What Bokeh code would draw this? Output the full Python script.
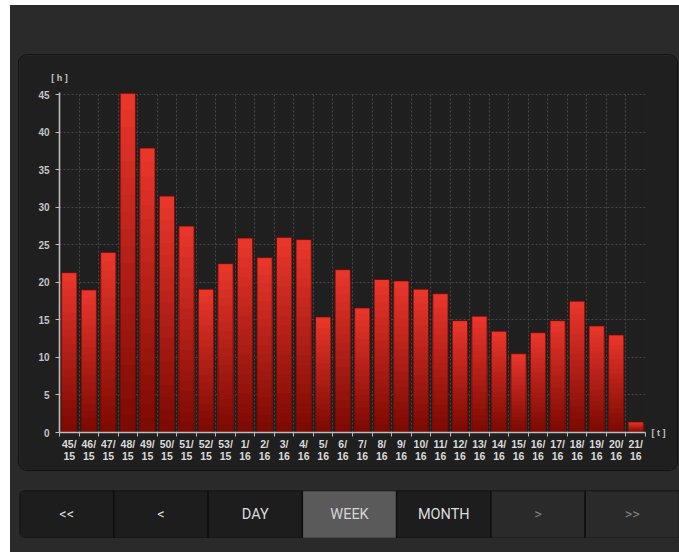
from bokeh.plotting import figure
from bokeh.models import FixedTicker, Range1d, LinearAxis, ColumnDataSource, FactorRange, Spacer
from bokeh.layouts import column, row
from bokeh.embed import file_html
from bokeh.resources import INLINE
from bokeh.core.properties import value

# ---- data ----
weeks = ["45/\n15", "46/\n15", "47/\n15", "48/\n15", "49/\n15", "50/\n15", "51/\n15",
         "52/\n15", "53/\n15", "1/\n16", "2/\n16", "3/\n16", "4/\n16", "5/\n16",
         "6/\n16", "7/\n16", "8/\n16", "9/\n16", "10/\n16", "11/\n16", "12/\n16",
         "13/\n16", "14/\n16", "15/\n16", "16/\n16", "17/\n16", "18/\n16", "19/\n16",
         "20/\n16", "21/\n16"]
hours = [21.3, 19.0, 24.0, 45.2, 37.9, 31.5, 27.5, 19.1, 22.5, 25.9, 23.3, 26.0,
         25.7, 15.4, 21.7, 16.6, 20.4, 20.2, 19.1, 18.5, 14.9, 15.5, 13.5, 10.5,
         13.3, 14.9, 17.5, 14.2, 13.0, 1.4]
y_ticks = [0, 5, 10, 15, 20, 25, 30, 35, 40, 45]
y_unit = "[ h ]"
x_unit = "[ t ]"
buttons = ["<<", "<", "DAY", "WEEK", "MONTH", ">", ">>"]
button_fill = ["#1d1d1d", "#1d1d1d", "#1d1d1d", "#5a5a5a", "#1d1d1d", "#2a2a2a", "#2a2a2a"]
button_text = ["#dcdcdc", "#dcdcdc", "#dcdcdc", "#d4d4d4", "#dcdcdc", "#7e7e7e", "#7e7e7e"]

LEATHER = "#2a2a2a"
PANEL = "#1f1f1f"

idx = list(range(len(weeks)))
src = ColumnDataSource(dict(x=idx, top=hours))
x0, x1 = -0.5, len(weeks) - 0.5

p = figure(width=658, height=415, output_backend="svg", toolbar_location=None,
           x_range=Range1d(x0, x1), y_range=Range1d(0, 45.3),
           min_border_left=40, min_border_right=32, min_border_top=37, min_border_bottom=38,
           background_fill_color=PANEL, border_fill_color=PANEL)
p.outline_line_color = None
p.styles = {"border-radius": "8px", "overflow": "hidden", "box-shadow": "0 0 0 1px #121212"}

# gradient bars (bright top -> dark bottom), built from the data
top_c = (232, 54, 43)
bot_c = (125, 10, 3)
N = 20
for k in range(N):
    frac = 1 - k / N
    t = k / (N - 1)
    c = tuple(int(round(top_c[i] + (bot_c[i] - top_c[i]) * t)) for i in range(3))
    col = "#%02x%02x%02x" % c
    p.vbar(x=idx, top=[h * frac for h in hours], width=0.78, fill_color=col, line_color=None)
p.vbar(x="x", top="top", source=src, width=0.78, fill_color=None,
       line_color="#6a0903", line_width=0.8)

# axes
p.yaxis.ticker = FixedTicker(ticks=y_ticks)
p.xaxis.ticker = FixedTicker(ticks=idx, minor_ticks=[i - 0.5 for i in range(len(weeks) + 1)])
p.xaxis.major_label_overrides = {i: w for i, w in zip(idx, weeks)}
for ax in (p.xaxis[0], p.yaxis[0]):
    ax.axis_line_color = "#bdbdbd"
    ax.axis_line_width = 1.6
    ax.major_tick_line_color = "#bdbdbd"
    ax.minor_tick_line_color = "#bdbdbd"
    ax.major_label_text_font = "Liberation Sans"
    ax.major_label_text_font_style = "bold"
    ax.major_label_text_font_size = "10px"
p.yaxis.major_tick_out = 4
p.yaxis.major_tick_in = 0
p.yaxis.minor_tick_out = 0
p.yaxis.minor_tick_in = 0
p.yaxis.major_label_standoff = 6
p.yaxis.major_label_text_color = "#c4c4c4"
p.xaxis.major_tick_out = 0
p.xaxis.major_tick_in = 0
p.xaxis.minor_tick_out = 4
p.xaxis.minor_tick_in = 0
p.xaxis.major_label_standoff = 1
p.xaxis.major_label_text_color = "#dadada"
p.xaxis.major_label_text_font_size = "10.5px"
p.xaxis.major_label_text_line_height = 1.0

# unit labels as tick-less axes
def unit_axis(tick, text, standoff):
    a = LinearAxis(ticker=FixedTicker(ticks=[tick]), major_label_overrides={tick: text})
    a.axis_line_color = None
    a.major_tick_line_color = None
    a.minor_tick_line_color = None
    a.major_tick_out = 0
    a.major_tick_in = 0
    a.major_label_standoff = standoff
    a.major_label_text_color = "#c4c4c4"
    a.major_label_text_font = "Liberation Sans"
    a.major_label_text_font_style = "bold"
    a.major_label_text_font_size = "9px"
    return a

p.add_layout(unit_axis(x0, y_unit, 10), "above")
p.add_layout(unit_axis(0, x_unit, 6), "right")

# grid
p.ygrid.grid_line_color = "#474747"
p.ygrid.grid_line_dash = "2 2"
p.xgrid.grid_line_color = None
p.xgrid.minor_grid_line_color = "#474747"
p.xgrid.minor_grid_line_dash = "2 2"

# ---- button bar ----
bsrc = ColumnDataSource(dict(x=buttons, fill=button_fill, tc=button_text))
b = figure(width=660, height=48, output_backend="svg", toolbar_location=None,
           x_range=FactorRange(factors=buttons, range_padding=0), y_range=Range1d(0, 1),
           x_axis_location=None, y_axis_location=None, min_border=0,
           background_fill_color=LEATHER, border_fill_color=LEATHER)
b.outline_line_color = None
b.grid.visible = False
b.styles = {"border-radius": "6px 0 0 6px", "overflow": "hidden"}
b.vbar(x="x", top=1, bottom=0, width=1, source=bsrc, fill_color="fill",
       line_color="#0f0f0f", line_width=1.5)
b.text(x="x", y=0.5, text="x", source=bsrc, text_align="center", text_baseline="middle",
       text_color="tc", text_font=value("Roboto"), text_font_size="14.5px")

leather = column(
    Spacer(height=50),
    row(Spacer(width=9), p),
    Spacer(height=20),
    row(Spacer(width=9), b),
    Spacer(height=14),
    styles={"background-color": LEATHER},
)
layout = column(Spacer(height=5), row(Spacer(width=10), leather))

open("out.html", "w").write(file_html(layout, INLINE))
